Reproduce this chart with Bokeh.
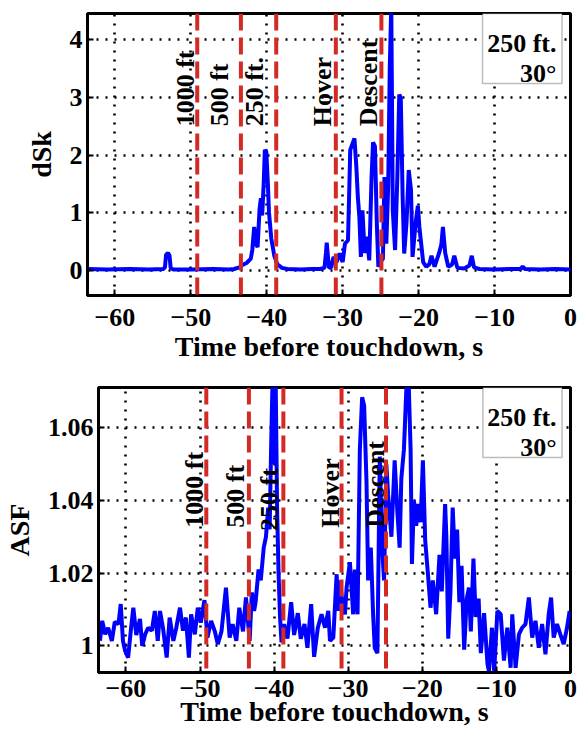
import math
from bokeh.plotting import figure
from bokeh.layouts import column, row
from bokeh.models import Span, BoxAnnotation, Label, CustomJSTickFormatter, FixedTicker
from bokeh.core.properties import value
from bokeh.embed import file_html
from bokeh.resources import INLINE

# ---------------- data ----------------
x_ticks = [-60, -50, -40, -30, -20, -10, 0]
dsk_ticks = [0, 1, 2, 3, 4]
asf_ticks = [1.0, 1.02, 1.04, 1.06]

event_times = [-49.15, -43.4, -38.75, -30.9, -24.9]
event_labels_top = ["1000 ft", "500 ft", "250 ft.", "Hover", "Descent"]
event_labels_bot = ["1000 ft", "500 ft", "250 ft", "Hover", "Descent"]
legend_lines = ["250 ft.", "30\u00b0"]

top_time = [
    -63.5, -61.0, -58.0, -55.5, -53.6, -53.4, -53.25, -53.0, -52.8, -52.65,
    -52.3, -50.0, -47.0, -45.0, -44.3, -43.6, -43.2, -42.6, -42.1, -41.9,
    -41.65, -41.4, -41.2, -40.95, -40.77, -40.6, -40.4, -40.25, -40.05, -39.85,
    -39.7, -39.4, -39.0, -38.6, -38.0, -37.3, -35.5, -34.0, -33.0, -32.4,
    -32.2, -32.1, -31.95, -31.8, -31.5, -31.2, -30.8, -30.4, -30.0, -29.7,
    -29.3, -29.0, -28.7, -28.45, -28.2, -28.0, -27.8, -27.6, -27.4, -27.1,
    -26.8, -26.5, -26.2, -26.0, -25.75, -25.5, -25.3, -25.0, -24.7, -24.5,
    -24.25, -24.0, -23.8, -23.6, -23.4, -23.1, -22.8, -22.55, -22.35, -22.1,
    -21.9, -21.6, -21.3, -21.0, -20.8, -20.4, -20.1, -19.9, -19.4, -19.0,
    -18.6, -18.3, -17.9, -17.3, -17.0, -16.8, -16.5, -16.1, -15.6, -15.3,
    -14.9, -14.0, -13.3, -13.0, -12.7, -12.0, -10.0, -8.0, -6.6, -6.3,
    -6.0, -4.0, -2.0, 0.0]
top_dsk = [
    0.02, 0.01, 0.02, 0.01, 0.02, 0.05, 0.27, 0.30, 0.25, 0.04,
    0.01, 0.01, 0.02, 0.01, 0.02, 0.05, 0.09, 0.13, 0.20, 0.35,
    0.75, 0.45, 0.40, 1.05, 1.25, 0.95, 1.50, 2.09, 2.05, 1.50,
    1.00, 0.55, 0.25, 0.10, 0.04, 0.02, 0.01, 0.02, 0.02, 0.04,
    0.30, 0.48, 0.25, 0.04, 0.05, 0.23, 0.14, 0.29, 0.14, 0.46,
    0.52, 2.09, 2.20, 2.29, 1.80, 1.27, 0.92, 0.23, 1.04, 0.30,
    0.58, 0.17, 1.60, 2.22, 2.15, 0.80, 0.06, 0.15, 0.20, 1.62,
    0.46, 1.50, 3.50, 4.60, 1.04, 0.35, 1.62, 3.05, 3.00, 1.27,
    0.29, 0.81, 1.74, 1.39, 0.23, 0.81, 1.12, 0.75, 0.14, 0.06,
    0.10, 0.25, 0.06, 0.30, 0.45, 0.75, 0.30, 0.06, 0.10, 0.25,
    0.04, 0.03, 0.08, 0.25, 0.05, 0.02, 0.01, 0.02, 0.02, 0.06,
    0.02, 0.01, 0.02, 0.01]

asf_time = [
    -63.5, -63.2, -62.8, -62.4, -61.9, -61.5, -61.0, -60.7, -60.4, -60.1,
    -59.7, -59.3, -59.0, -58.6, -58.1, -57.8, -57.4, -57.0, -56.5, -56.1,
    -55.7, -55.4, -55.0, -54.5, -54.1, -53.6, -53.2, -52.7, -52.3, -51.9,
    -51.5, -51.2, -50.7, -50.3, -49.9, -49.4, -49.0, -48.5, -48.0, -47.6,
    -47.1, -46.5, -46.0, -45.6, -45.1, -44.7, -44.2, -43.8, -43.3, -43.0,
    -42.7, -42.5, -42.1, -41.8, -41.4, -41.1, -40.8, -40.6, -40.4, -40.2,
    -40.0, -39.8, -39.6, -39.4, -39.2, -39.0, -38.65, -38.2, -37.7, -37.3,
    -36.8, -36.4, -35.9, -35.5, -35.0, -34.6, -34.1, -33.6, -33.13, -32.69,
    -32.46, -32.01, -31.56, -31.34, -31.12, -30.8, -30.44, -30.22, -29.77, -29.33,
    -29.1, -28.74, -28.43, -28.12, -27.85, -27.53, -27.31, -26.95, -26.64, -26.42,
    -26.06, -25.74, -25.43, -25.16, -24.85, -24.62, -24.17, -23.73, -23.37, -23.06,
    -22.83, -22.48, -22.16, -21.85, -21.58, -21.4, -21.13, -20.82, -20.59, -20.23,
    -19.92, -19.61, -19.25, -18.89, -18.58, -18.13, -17.68, -17.37, -16.92, -16.75,
    -16.5, -16.2, -15.9, -15.6, -15.3, -15.0, -14.7, -14.35, -14.0, -13.7,
    -13.45, -13.1, -12.8, -12.4, -12.1, -11.66, -11.2, -11.0, -10.6, -10.3,
    -9.87, -9.42, -8.98, -8.53, -8.08, -7.86, -7.41, -6.96, -6.52, -6.07,
    -5.62, -5.17, -4.73, -4.28, -3.83, -3.38, -2.94, -2.62, -2.27, -1.82,
    -1.37, -0.92, -0.47, -0.12]
asf_vals = [
    1.0014, 1.0069, 1.0032, 1.0050, 1.0014, 1.0066, 1.0060, 1.0115, 1.0014, 0.9986,
    0.9968, 1.0050, 1.0105, 1.0030, 1.0074, 1.0000, 1.0032, 1.0050, 1.0042, 1.0096,
    1.0014, 1.0096, 1.0050, 0.9968, 1.0078, 1.0014, 1.0050, 1.0105, 1.0042, 1.0078,
    0.9968, 1.0087, 1.0032, 1.0105, 1.0064, 1.0126, 1.0023, 1.0069, 1.0040, 1.0005,
    1.0040, 1.0160, 1.0023, 1.0060, 1.0014, 1.0105, 1.0040, 1.0133, 1.0014, 1.0147,
    1.0096, 1.0120, 1.0210, 1.0180, 1.0270, 1.0300, 1.0380, 1.0320, 1.0550, 1.0740,
    1.0500, 1.0750, 1.0380, 1.0200, 1.0080, 1.0010, 1.0060, 1.0020, 1.0120, 1.0030,
    1.0090, 1.0020, 1.0060, 0.9995, 1.0115, 0.9970, 1.0050, 1.0087, 1.0050, 1.0096,
    1.0014, 1.0023, 1.0197, 1.0096, 1.0180, 1.0123, 1.0087, 1.0160, 1.0230, 1.0087,
    1.0210, 1.0087, 1.0540, 1.0683, 1.0660, 1.0450, 1.0180, 1.0270, 1.0087, 0.9995,
    0.9980, 1.0520, 1.0270, 1.0180, 1.0499, 1.0417, 1.0300, 1.0510, 1.0370, 1.0270,
    1.0460, 1.0540, 1.0703, 1.0730, 1.0540, 1.0225, 1.0400, 1.0330, 1.0390, 1.0340,
    1.0510, 1.0290, 1.0200, 1.0105, 1.0180, 1.0087, 1.0250, 1.0150, 1.0390, 1.0300,
    1.0020, 1.0150, 1.0380, 1.0240, 1.0320, 1.0120, 1.0220, 0.9990, 1.0130, 1.0160,
    1.0040, 1.0240, 1.0080, 1.0130, 0.9980, 1.0090, 0.9950, 0.9930, 1.0050, 0.9930,
    1.0096, 1.0087, 0.9960, 1.0050, 0.9940, 1.0087, 0.9940, 1.0032, 1.0050, 1.0060,
    1.0133, 1.0023, 1.0069, 0.9995, 1.0060, 0.9977, 1.0087, 1.0133, 1.0023, 1.0060,
    1.0032, 1.0005, 1.0050, 1.0096]

# label anchor positions (data coords)
lab_x_top = [-49.7, -45.1, -40.55, -31.66, -25.54]
lab_y_top = [2.5, 2.5, 2.5, 2.5, 2.5]
lab_x_bot = [-49.6, -44.1, -39.5, -31.34, -25.3]
lab_y_bot = [1.0325, 1.0325, 1.0316, 1.0325, 1.0325]

FONT = "Liberation Serif"
BLUE = "#0000ff"
RED = "#d42a24"

W = 579
x_fmt = CustomJSTickFormatter(code="return (tick < 0 ? '\u2212' : '') + Math.abs(tick).toString();")
y_fmt = CustomJSTickFormatter(code="return parseFloat(tick.toFixed(2)).toString();")


def make_panel(height, xr, yr, mb_left, mb_top, mb_bottom, yticks, ylabel,
               t, v, lw, lab_x, lab_y, labels, tick_standoff, title_standoff,
               ytitle_standoff, yfmt):
    p = figure(width=W, height=height, x_range=xr, y_range=yr,
               output_backend="svg", toolbar_location=None,
               min_border_left=mb_left, min_border_right=9,
               min_border_top=mb_top, min_border_bottom=mb_bottom,
               background_fill_color="white", border_fill_color="white")
    p.outline_line_color = "black"
    p.outline_line_width = 3
    p.outline_line_alpha = 1

    p.xaxis.ticker = FixedTicker(ticks=x_ticks)
    p.yaxis.ticker = FixedTicker(ticks=yticks)
    p.xaxis.formatter = x_fmt
    if yfmt is not None:
        p.yaxis.formatter = yfmt
    for ax in (p.xaxis, p.yaxis):
        ax.axis_line_width = 3
        ax.axis_line_color = "black"
        ax.major_tick_in = 6
        ax.major_tick_out = 0
        ax.major_tick_line_width = 2
        ax.minor_tick_line_color = None
        ax.major_label_text_font = FONT
        ax.major_label_text_font_style = "bold"
        ax.major_label_text_font_size = "26px"
        ax.major_label_text_color = "black"
        ax.axis_label_text_font = FONT
        ax.axis_label_text_font_style = "bold"
        ax.axis_label_text_font_size = "28px"
        ax.axis_label_text_color = "black"
    p.xaxis.axis_label = "Time before touchdown, s"
    p.yaxis.axis_label = ylabel
    p.xaxis.major_label_standoff = tick_standoff
    p.xaxis.axis_label_standoff = title_standoff
    p.yaxis.major_label_standoff = 5
    p.yaxis.axis_label_standoff = ytitle_standoff

    for g in (p.xgrid, p.ygrid):
        g.grid_line_color = "black"
        g.grid_line_width = 2.6
        g.grid_line_dash = "2 7"
        g.grid_line_alpha = 1

    p.line(t, v, line_color=BLUE, line_width=lw)

    for et in event_times:
        p.add_layout(Span(location=et, dimension="height", line_color=RED,
                          line_width=4, line_dash="17 7"))

    p.text(x=lab_x, y=lab_y, text=labels, angle=math.pi / 2, x_offset=-8,
           text_font=value(FONT), text_font_style="bold",
           text_font_size=value("26px"), text_color="black",
           text_align="left", text_baseline="alphabetic")

    # legend box in the upper-right corner (positions from frame size)
    frame_w = W - mb_left - 9
    frame_h = height - mb_top - mb_bottom
    dx = (xr[1] - xr[0]) / frame_w
    dy = (yr[1] - yr[0]) / frame_h
    p.add_layout(BoxAnnotation(left=xr[1] - 88 * dx, right=xr[1] - 8.5 * dx,
                               top=yr[1], bottom=yr[1] - 70 * dy,
                               fill_color="white", fill_alpha=1,
                               line_color="#222222", line_width=1.5))
    for i, txt in enumerate(legend_lines):
        p.add_layout(Label(x=xr[1] - 14 * dx, y=yr[1] - (30 + 30 * i) * dy,
                           text=txt, text_align="right", text_baseline="alphabetic",
                           text_font=FONT, text_font_style="bold",
                           text_font_size="26px", text_color="black"))
    return p


p1 = make_panel(370, (-63.6, 0.0), (-0.44, 4.46), 87, 13, 75, dsk_ticks, "dSk",
                top_time, top_dsk, 4, lab_x_top, lab_y_top, event_labels_top,
                13, 2, 10, None)
p2 = make_panel(362, (-63.7, 0.0), (0.9927, 1.071), 96, 17, 60, asf_ticks, "ASF",
                asf_time, asf_vals, 4, lab_x_bot, lab_y_bot, event_labels_bot,
                7, -4, 10, y_fmt)

layout = column(row(p1), row(p2), spacing=0)
open("out.html", "w").write(file_html(layout, INLINE))
